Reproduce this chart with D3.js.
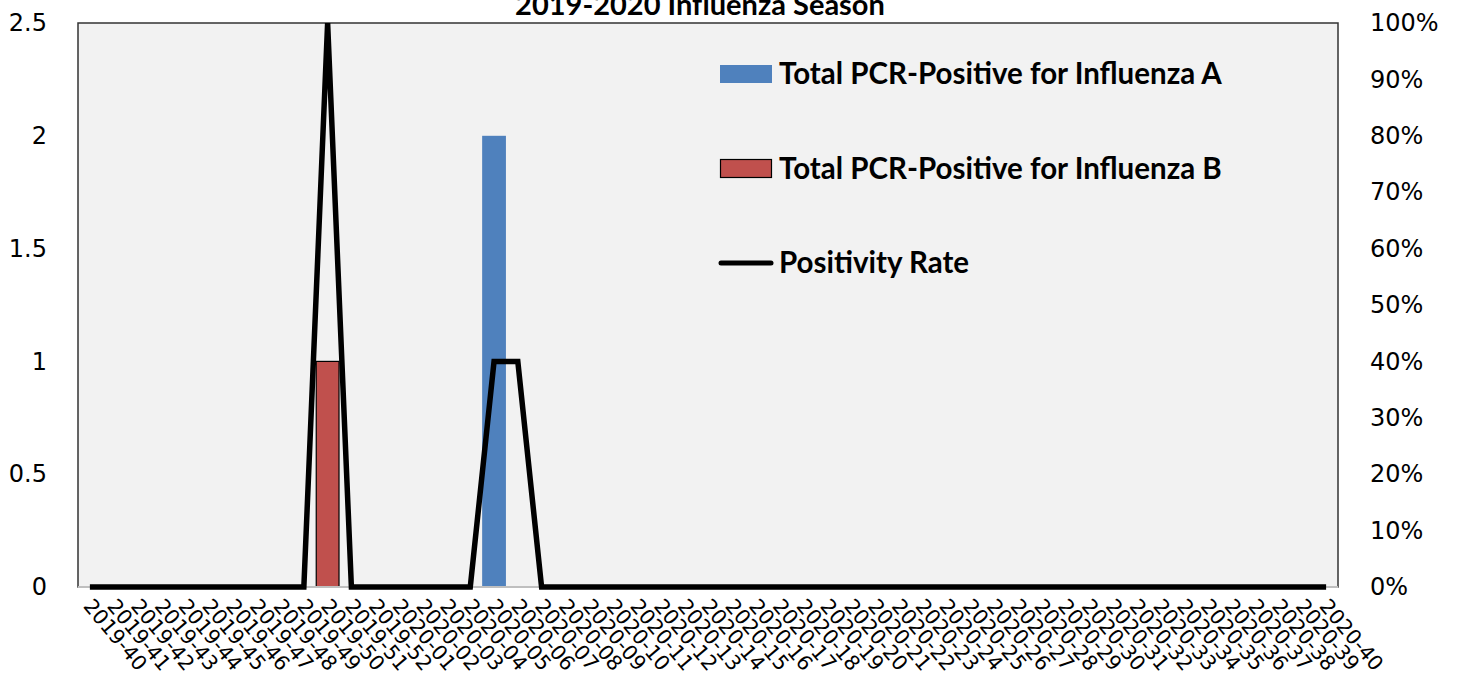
<!DOCTYPE html>
<html>
<head>
<meta charset="utf-8">
<script src="https://cdn.jsdelivr.net/npm/d3@7"></script>
<style>
  body { margin: 0; background: #fff; }
  svg { display: block; }
</style>
</head>
<body>
<svg id="chart" width="1458" height="679"></svg>
<script>
// weeks of the season
var weeks = ["2019-40","2019-41","2019-42","2019-43","2019-44","2019-45","2019-46","2019-47","2019-48","2019-49",
  "2019-50","2019-51","2019-52","2020-01","2020-02","2020-03","2020-04","2020-05","2020-06","2020-07",
  "2020-08","2020-09","2020-10","2020-11","2020-12","2020-13","2020-14","2020-15","2020-16","2020-17",
  "2020-18","2020-19","2020-20","2020-21","2020-22","2020-23","2020-24","2020-25","2020-26","2020-27",
  "2020-28","2020-29","2020-30","2020-31","2020-32","2020-33","2020-34","2020-35","2020-36","2020-37",
  "2020-38","2020-39","2020-40"];

var fluA = [0,0,0,0,0,0,0,0,0,0, 0,0,0,0,0,0,0,2,0,0, 0,0,0,0,0,0,0,0,0,0, 0,0,0,0,0,0,0,0,0,0, 0,0,0,0,0,0,0,0,0,0, 0,0,0];
var fluB = [0,0,0,0,0,0,0,0,0,0, 1,0,0,0,0,0,0,0,0,0, 0,0,0,0,0,0,0,0,0,0, 0,0,0,0,0,0,0,0,0,0, 0,0,0,0,0,0,0,0,0,0, 0,0,0];
var posRate = [0,0,0,0,0,0,0,0,0,0, 1,0,0,0,0,0,0,0.4,0.4,0, 0,0,0,0,0,0,0,0,0,0, 0,0,0,0,0,0,0,0,0,0, 0,0,0,0,0,0,0,0,0,0, 0,0,0];

var leftTicks = [0, 0.5, 1, 1.5, 2, 2.5];
var rightTicks = [0, 0.1, 0.2, 0.3, 0.4, 0.5, 0.6, 0.7, 0.8, 0.9, 1];
var seriesNames = ["Total PCR-Positive for Influenza A", "Total PCR-Positive for Influenza B", "Positivity Rate"];

var svg = d3.select("#chart"),
    margin = {top: 23, right: 120, bottom: 92, left: 78},
    width = +svg.attr("width") - margin.left - margin.right,
    height = +svg.attr("height") - margin.top - margin.bottom,
    g = svg.append("g").attr("transform", "translate(" + margin.left + "," + margin.top + ")");

var tickFont = "DejaVu Sans, sans-serif";
var boldFont = "Lato, Open Sans, sans-serif";

var x = d3.scaleBand().domain(weeks).range([0, width]).padding(0);
var y = d3.scaleLinear().domain([0, 2.5]).range([height, 0]);
var y2 = d3.scaleLinear().domain([0, 1]).range([height, 0]);

// plot area
g.append("rect")
    .attr("width", width)
    .attr("height", height)
    .attr("fill", "#f2f2f2")
    .attr("stroke", "#333")
    .attr("stroke-width", 1.5);

// bars (A and B overlap fully in each week)
g.append("g").selectAll("rect")
  .data(weeks.map(function(w, i) { return {w: w, v: fluA[i]}; }).filter(function(d) { return d.v > 0; }))
  .enter().append("rect")
    .attr("x", function(d) { return x(d.w); })
    .attr("y", function(d) { return y(d.v); })
    .attr("width", x.bandwidth())
    .attr("height", function(d) { return y(0) - y(d.v); })
    .attr("fill", "#4f81bd");

g.append("g").selectAll("rect")
  .data(weeks.map(function(w, i) { return {w: w, v: fluB[i]}; }).filter(function(d) { return d.v > 0; }))
  .enter().append("rect")
    .attr("x", function(d) { return x(d.w) + 0.5; })
    .attr("y", function(d) { return y(d.v); })
    .attr("width", x.bandwidth() - 1)
    .attr("height", function(d) { return y(0) - y(d.v); })
    .attr("fill", "#c0504d")
    .attr("stroke", "#000")
    .attr("stroke-width", 1.2);

// bottom axis line
g.append("line")
    .attr("x1", 0).attr("x2", width)
    .attr("y1", height).attr("y2", height)
    .attr("stroke", "#bfbfbf")
    .attr("stroke-width", 2);

// positivity line
var line = d3.line()
    .x(function(d, i) { return x(weeks[i]) + x.bandwidth() / 2; })
    .y(function(d) { return y2(d); });

g.append("path")
    .datum(posRate)
    .attr("fill", "none")
    .attr("stroke", "#000")
    .attr("stroke-width", 5.5)
    .attr("stroke-linejoin", "miter")
    .attr("d", line);

// left axis
var yAxis = g.append("g")
    .call(d3.axisLeft(y).tickValues(leftTicks).tickSize(0).tickPadding(31).tickFormat(d3.format("")));
yAxis.select(".domain").remove();
yAxis.selectAll("text").attr("font-family", tickFont).attr("font-size", 24).attr("fill", "#000");

// right axis
var y2Axis = g.append("g")
    .attr("transform", "translate(" + width + ",0)")
    .call(d3.axisRight(y2).tickValues(rightTicks).tickSize(0).tickPadding(32).tickFormat(d3.format(".0%")));
y2Axis.select(".domain").remove();
y2Axis.selectAll("text").attr("font-family", tickFont).attr("font-size", 24).attr("fill", "#000");

// x labels, rotated
g.append("g").selectAll("text")
  .data(weeks)
  .enter().append("text")
    .attr("transform", function(d) {
      return "translate(" + (x(d) + x.bandwidth() / 2 - 2) + "," + (height + 15) + ") rotate(50)";
    })
    .attr("dy", "0.35em")
    .attr("font-family", tickFont)
    .attr("font-size", 20.5)
    .attr("fill", "#000")
    .text(function(d) { return d; });

// title
svg.append("text")
    .attr("x", 700)
    .attr("y", 15)
    .attr("text-anchor", "middle")
    .attr("font-family", boldFont)
    .attr("font-weight", "bold")
    .attr("font-size", 29)
    .text("2019-2020 Influenza Season");

// legend
var legend = svg.append("g").attr("font-family", boldFont).attr("font-weight", "bold").attr("font-size", 29.5);

legend.append("rect")
    .attr("x", 720).attr("y", 65).attr("width", 52).attr("height", 18)
    .attr("fill", "#4f81bd");
legend.append("rect")
    .attr("x", 720.5).attr("y", 159.5).attr("width", 51).attr("height", 18)
    .attr("fill", "#c0504d").attr("stroke", "#000").attr("stroke-width", 1.2);
legend.append("line")
    .attr("x1", 721).attr("x2", 771).attr("y1", 263).attr("y2", 263)
    .attr("stroke", "#000").attr("stroke-width", 5).attr("stroke-linecap", "round");

legend.selectAll("text.lbl")
  .data(seriesNames)
  .enter().append("text")
    .attr("class", "lbl")
    .attr("x", 779)
    .attr("y", function(d, i) { return [84, 179, 273][i]; })
    .text(function(d) { return d; });
</script>
</body>
</html>
